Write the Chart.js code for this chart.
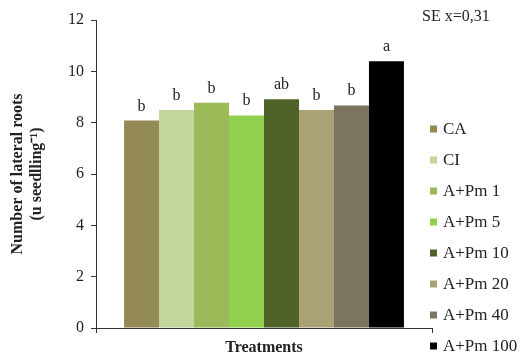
<!DOCTYPE html>
<html>
<head>
<meta charset="utf-8">
<script src="https://cdn.jsdelivr.net/npm/chart.js@4.4.0/dist/chart.umd.min.js"></script>
<style>
  body { margin: 0; background: #fff; }
  #wrap { width: 524px; height: 354px; position: relative; }
</style>
</head>
<body>
<div id="wrap"><canvas id="rootChart"></canvas></div>
<script>
const treatments = ["CA", "CI", "A+Pm 1", "A+Pm 5", "A+Pm 10", "A+Pm 20", "A+Pm 40", "A+Pm 100"];
const lateralRoots = [8.08, 8.49, 8.78, 8.28, 8.91, 8.49, 8.67, 10.39];
const groupLetters = ["b", "b", "b", "b", "ab", "b", "b", "a"];
const barColors = ["#948a54", "#c3d69b", "#9bbb59", "#92d050", "#4f6228", "#aaa274", "#7b7560", "#000000"];
const xLabels = ["Treatments"];
const seNote = "SE x=0,31";

const serif = "'Liberation Serif', 'Times New Roman', serif";
const ink = "#222";

// letters above the bars
const letterPlugin = {
  id: "letters",
  afterDatasetsDraw(chart) {
    const ctx = chart.ctx;
    ctx.save();
    ctx.font = "16px " + serif;
    ctx.fillStyle = ink;
    ctx.textAlign = "center";
    ctx.textBaseline = "alphabetic";
    chart.data.datasets.forEach((ds, i) => {
      const bar = chart.getDatasetMeta(i).data[0];
      ctx.fillText(groupLetters[i], bar.x, bar.y - 10);
    });
    ctx.restore();
  }
};

// legend on the right + SE note
const sideLegend = {
  id: "sideLegend",
  afterDraw(chart) {
    const ctx = chart.ctx;
    ctx.save();
    ctx.font = "16px " + serif;
    ctx.fillStyle = ink;
    ctx.textBaseline = "middle";
    ctx.fillText(seNote, 422, 17);

    ctx.font = "17px " + serif;
    chart.data.datasets.forEach((ds, i) => {
      const y = 129 + i * 31;
      ctx.fillStyle = ds.backgroundColor;
      ctx.fillRect(430, y - 3.5, 7, 7);
      ctx.fillStyle = ink;
      ctx.fillText(ds.label, 443, y + 1);
    });
    ctx.restore();
  }
};

const datasets = treatments.map((t, i) => ({
  label: t,
  data: [lateralRoots[i]],
  backgroundColor: barColors[i],
  borderWidth: 0,
  categoryPercentage: 0.833,
  barPercentage: 1
}));

new Chart(document.getElementById("rootChart"), {
  type: "bar",
  data: { labels: xLabels, datasets: datasets },
  options: {
    responsive: true,
    maintainAspectRatio: false,
    animation: false,
    layout: { padding: { left: 0, top: 20, right: 92, bottom: 0 } },
    plugins: {
      legend: { display: false },
      tooltip: { enabled: false }
    },
    scales: {
      x: {
        afterFit: s => { s.height = 26; },
        grid: { display: true, drawOnChartArea: false, tickLength: 5, color: "#333", offset: true },
        border: { color: "#333", width: 1 },
        ticks: { color: ink, padding: 5, font: { family: serif, size: 16, weight: "bold" } }
      },
      y: {
        min: 0,
        max: 12,
        afterFit: s => { s.width = 96; },
        grid: { display: true, drawOnChartArea: false, tickLength: 5, color: "#333" },
        border: { color: "#333", width: 1 },
        ticks: { stepSize: 2, color: ink, padding: 7, font: { family: serif, size: 16 } },
        title: {
          display: true,
          text: ["Number of lateral roots", "(u seedlling\u207B\u00B9)"],
          color: ink,
          font: { family: serif, size: 16, weight: "bold", lineHeight: 1.2 },
          padding: { top: 8, bottom: 0 }
        }
      }
    }
  },
  plugins: [letterPlugin, sideLegend]
});
</script>
</body>
</html>
